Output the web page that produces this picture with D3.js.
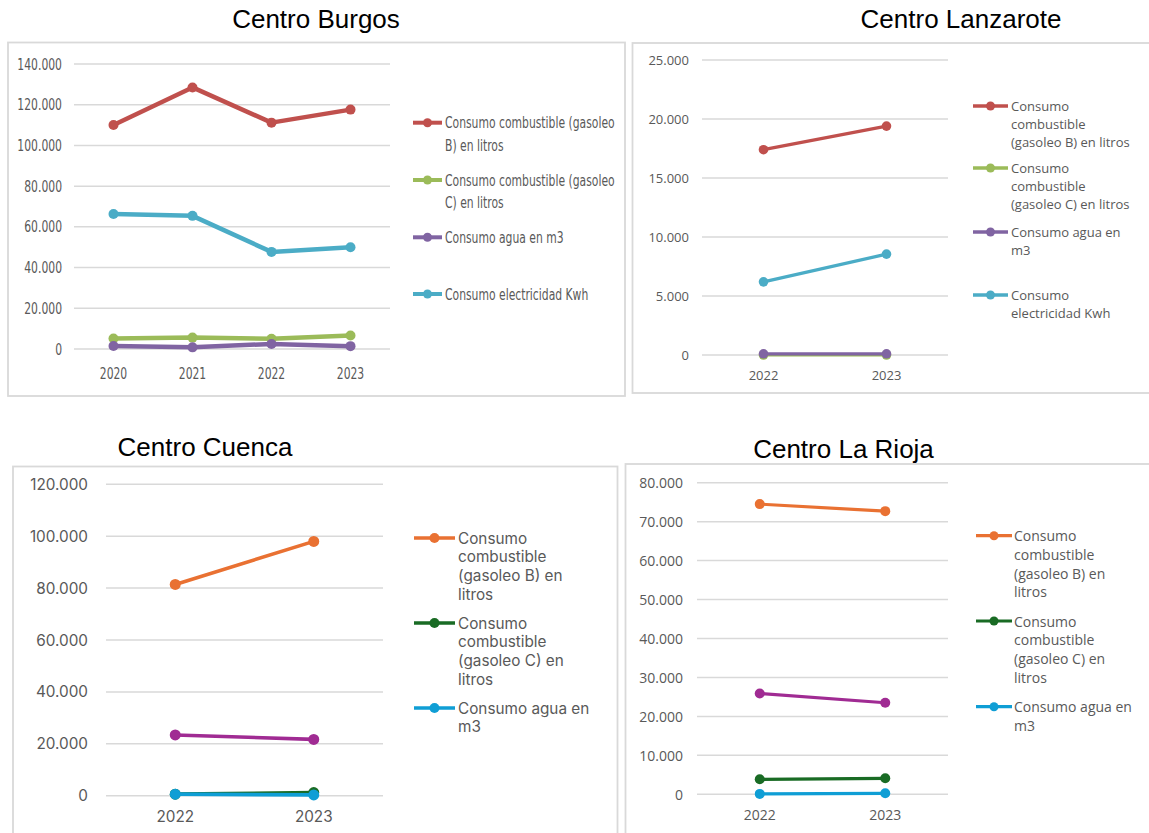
<!DOCTYPE html>
<html>
<head>
<meta charset="utf-8">
<script src="https://cdn.jsdelivr.net/npm/d3@7"></script>
<style>
  html, body { margin: 0; padding: 0; background: #ffffff; }
  svg { display: block; }
</style>
</head>
<body>
<svg id="chart" width="1149" height="833"></svg>
<script>
// ---------------- DATA ----------------
// Centro Burgos
const burgosYears = ["2020", "2021", "2022", "2023"];
const burgosGasoleoB = [110000, 128500, 111200, 117600];
const burgosGasoleoC = [5200, 5600, 5000, 6600];
const burgosAgua = [1500, 800, 2500, 1400];
const burgosElectricidad = [66300, 65400, 47700, 50000];
const burgosTicks = [0, 20000, 40000, 60000, 80000, 100000, 120000, 140000];
const burgosLegend = [
  ["Consumo combustible (gasoleo", "B) en litros"],
  ["Consumo combustible (gasoleo", "C) en litros"],
  ["Consumo agua en m3"],
  ["Consumo electricidad Kwh"]
];

// Centro Lanzarote
const lanzaroteYears = ["2022", "2023"];
const lanzaroteGasoleoB = [17400, 19400];
const lanzaroteGasoleoC = [0, 0];
const lanzaroteAgua = [100, 100];
const lanzaroteElectricidad = [6200, 8550];
const lanzaroteTicks = [0, 5000, 10000, 15000, 20000, 25000];
const lanzaroteLegend = [
  ["Consumo", "combustible", "(gasoleo B) en litros"],
  ["Consumo", "combustible", "(gasoleo C) en litros"],
  ["Consumo agua en", "m3"],
  ["Consumo", "electricidad Kwh"]
];

// Centro Cuenca
const cuencaYears = ["2022", "2023"];
const cuencaGasoleoB = [81400, 98000];
const cuencaGasoleoC = [600, 1200];
const cuencaAgua = [600, 300];
const cuencaElectricidad = [23400, 21700];
const cuencaTicks = [0, 20000, 40000, 60000, 80000, 100000, 120000];
const cuencaLegend = [
  ["Consumo", "combustible", "(gasoleo B) en", "litros"],
  ["Consumo", "combustible", "(gasoleo C) en", "litros"],
  ["Consumo agua en", "m3"]
];

// Centro La Rioja
const riojaYears = ["2022", "2023"];
const riojaGasoleoB = [74500, 72700];
const riojaGasoleoC = [3850, 4100];
const riojaAgua = [100, 250];
const riojaElectricidad = [25900, 23500];
const riojaTicks = [0, 10000, 20000, 30000, 40000, 50000, 60000, 70000, 80000];
const riojaLegend = [
  ["Consumo", "combustible", "(gasoleo B) en", "litros"],
  ["Consumo", "combustible", "(gasoleo C) en", "litros"],
  ["Consumo agua en", "m3"]
];

const titles = ["Centro Burgos", "Centro Lanzarote", "Centro Cuenca", "Centro La Rioja"];

// ---------------- STYLE / LAYOUT ----------------
const oldTheme = ["#C0504D", "#9BBB59", "#8064A2", "#4BACC6"];
const newTheme = ["#E97132", "#196B24", "#0F9ED5", "#A02B93"];

const charts = [
  {
    title: titles[0], titleX: 316, titleY: 28,
    frame: {x: 8, y: 42.5, w: 617, h: 353.5},
    x0: 74, x1: 390, yTop: 64, yBottom: 349, max: 140000,
    years: burgosYears, ticks: burgosTicks,
    series: [burgosGasoleoB, burgosGasoleoC, burgosAgua, burgosElectricidad],
    colors: oldTheme, lineW: 4.5, r: 5,
    font: "'DejaVu Sans Condensed', 'Liberation Sans Narrow', sans-serif",
    fontSize: 15, sx: 0.8, tickRight: 62, xLabelY: 373,
    legend: burgosLegend, legX0: 413, legX1: 442, legTextX: 445, legLine: 22.3,
    legY: [122.7, 180, 237.3, 294], legR: 4.5, legW: 4
  },
  {
    title: titles[1], titleX: 961, titleY: 28,
    frame: {x: 632.5, y: 43, w: 540, h: 350},
    x0: 702, x1: 948, yTop: 60, yBottom: 355, max: 25000,
    years: lanzaroteYears, ticks: lanzaroteTicks,
    series: [lanzaroteGasoleoB, lanzaroteGasoleoC, lanzaroteAgua, lanzaroteElectricidad],
    colors: oldTheme, lineW: 3.2, r: 4.8,
    font: "'Open Sans', 'Noto Sans', sans-serif",
    fontSize: 13, sx: 1, tickRight: 689, xLabelY: 375,
    legend: lanzaroteLegend, legX0: 973, legX1: 1008, legTextX: 1011, legLine: 18,
    legY: [106, 168, 232, 295], legR: 4.5, legW: 3.5
  },
  {
    title: titles[2], titleX: 205, titleY: 456,
    frame: {x: 13, y: 466.5, w: 604.5, h: 400},
    x0: 106, x1: 383, yTop: 484.3, yBottom: 795.7, max: 120000,
    years: cuencaYears, ticks: cuencaTicks,
    series: [cuencaGasoleoB, cuencaGasoleoC, cuencaAgua, cuencaElectricidad],
    colors: newTheme, lineW: 3.6, r: 5.5,
    font: "Inter, 'Open Sans', sans-serif",
    fontSize: 15.3, sx: 1, tickRight: 88, xLabelY: 816,
    legend: cuencaLegend, legX0: 414, legX1: 455, legTextX: 458, legLine: 18.7,
    legY: [538, 623, 708], legR: 5, legW: 3.6
  },
  {
    title: titles[3], titleX: 843.5, titleY: 458,
    frame: {x: 625.5, y: 464, w: 540, h: 400},
    x0: 697, x1: 948, yTop: 482.7, yBottom: 794.3, max: 80000,
    years: riojaYears, ticks: riojaTicks,
    series: [riojaGasoleoB, riojaGasoleoC, riojaAgua, riojaElectricidad],
    colors: newTheme, lineW: 3.2, r: 5,
    font: "'Open Sans', 'Noto Sans', sans-serif",
    fontSize: 14, sx: 1, tickRight: 683, xLabelY: 814,
    legend: riojaLegend, legX0: 976, legX1: 1012, legTextX: 1014, legLine: 18.7,
    legY: [535.7, 621, 706.7], legR: 4.5, legW: 3.2
  }
];

const svg = d3.select("#chart");
const fmt = v => v === 0 ? "0" : d3.format(",")(v).replace(/,/g, ".");

charts.forEach(c => {
  const g = svg.append("g");
  const place = (px, py) => `translate(${px},${py}) scale(${c.sx},1)`;

  // frame
  g.append("rect")
    .attr("x", c.frame.x).attr("y", c.frame.y)
    .attr("width", c.frame.w).attr("height", c.frame.h)
    .attr("fill", "#ffffff").attr("stroke", "#d9d9d9").attr("stroke-width", 1.8);

  // title
  svg.append("text")
    .attr("x", c.titleX).attr("y", c.titleY)
    .attr("text-anchor", "middle")
    .attr("font-family", "'Liberation Sans', Arial, sans-serif")
    .attr("font-size", 26).attr("fill", "#000000")
    .text(c.title);

  const x = d3.scaleBand().domain(c.years).range([c.x0, c.x1]);
  const y = d3.scaleLinear().domain([0, c.max]).range([c.yBottom, c.yTop]);
  const cx = d => x(d) + x.bandwidth() / 2;

  // gridlines
  g.selectAll("line.grid").data(c.ticks).join("line")
    .attr("class", "grid")
    .attr("x1", c.x0).attr("x2", c.x1)
    .attr("y1", d => y(d)).attr("y2", d => y(d))
    .attr("stroke", "#d9d9d9").attr("stroke-width", 1.5);

  // y tick labels
  g.selectAll("text.ytick").data(c.ticks).join("text")
    .attr("class", "ytick")
    .attr("transform", d => place(c.tickRight, y(d)))
    .attr("text-anchor", "end").attr("dominant-baseline", "central")
    .attr("font-family", c.font).attr("font-size", c.fontSize)
    .attr("fill", "#595959")
    .text(fmt);

  // x labels
  g.selectAll("text.xtick").data(c.years).join("text")
    .attr("class", "xtick")
    .attr("transform", d => place(cx(d), c.xLabelY))
    .attr("text-anchor", "middle").attr("dominant-baseline", "central")
    .attr("font-family", c.font).attr("font-size", c.fontSize)
    .attr("fill", "#595959")
    .text(d => d);

  // series
  const line = d3.line().x((d, i) => cx(c.years[i])).y(d => y(d));
  c.series.forEach((s, si) => {
    const sg = g.append("g");
    sg.append("path")
      .attr("d", line(s))
      .attr("fill", "none").attr("stroke", c.colors[si])
      .attr("stroke-width", c.lineW).attr("stroke-linejoin", "round")
      .attr("stroke-linecap", "round");
    sg.selectAll("circle").data(s).join("circle")
      .attr("cx", (d, i) => cx(c.years[i])).attr("cy", d => y(d))
      .attr("r", c.r).attr("fill", c.colors[si]);
  });

  // legend
  c.legend.forEach((lines, li) => {
    const ly = c.legY[li];
    g.append("line")
      .attr("x1", c.legX0).attr("x2", c.legX1)
      .attr("y1", ly).attr("y2", ly)
      .attr("stroke", c.colors[li]).attr("stroke-width", c.legW);
    g.append("circle")
      .attr("cx", (c.legX0 + c.legX1) / 2).attr("cy", ly)
      .attr("r", c.legR).attr("fill", c.colors[li]);
    const txt = g.append("text")
      .attr("transform", place(c.legTextX, ly))
      .attr("font-family", c.font).attr("font-size", c.fontSize)
      .attr("fill", "#595959");
    lines.forEach((t, ti) => {
      txt.append("tspan")
        .attr("x", 0).attr("y", ti * c.legLine)
        .attr("dominant-baseline", "central")
        .text(t);
    });
  });
});
</script>
</body>
</html>
